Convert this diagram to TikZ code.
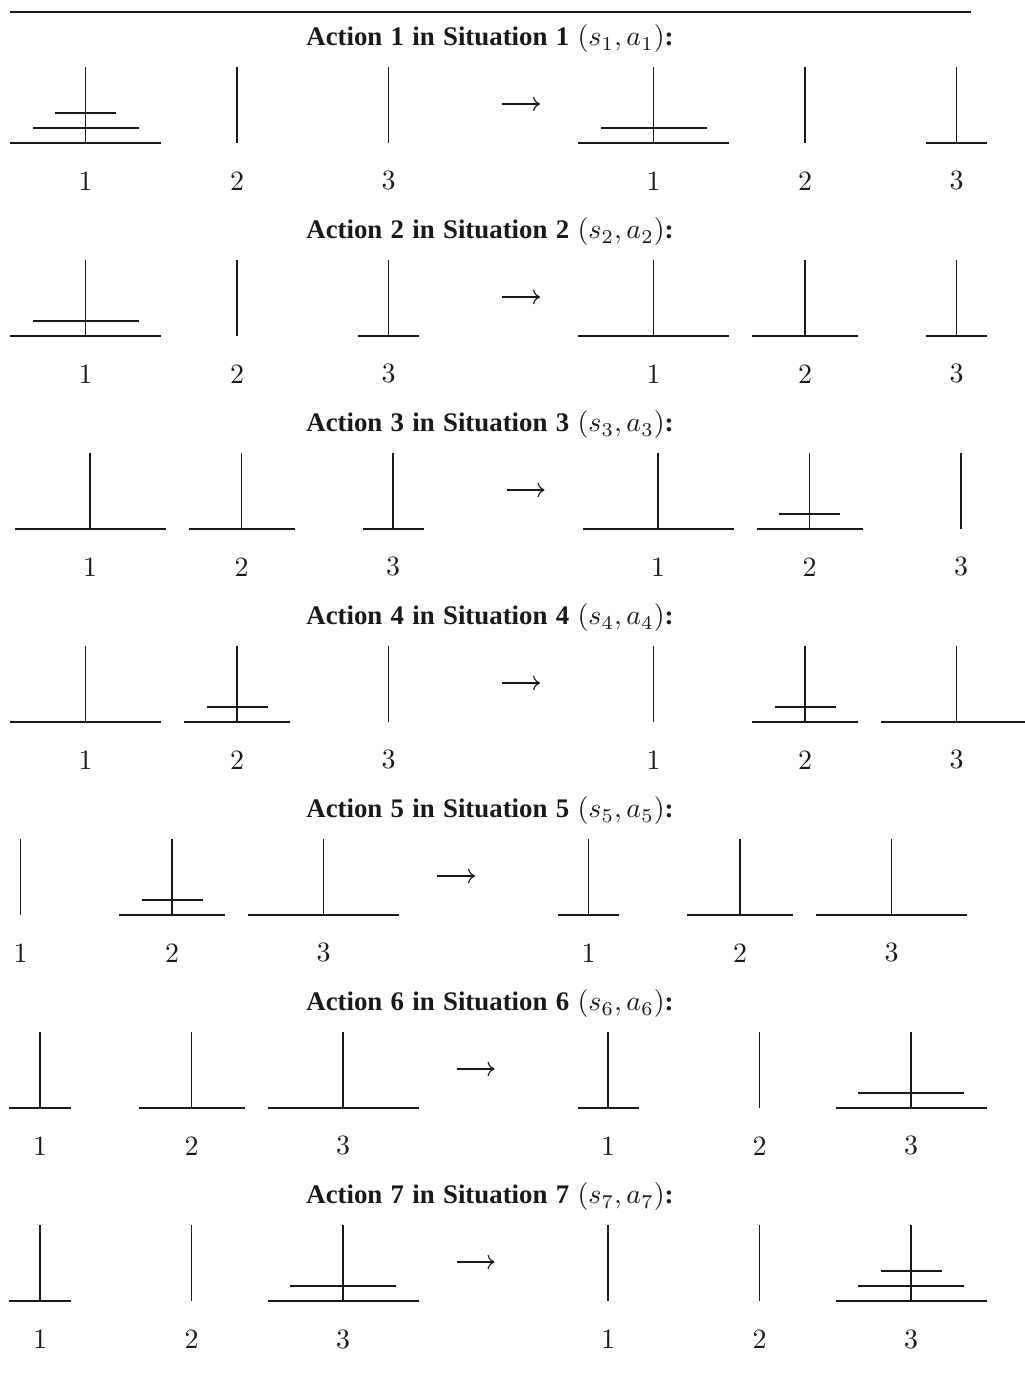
\documentclass[tikz,border=0pt]{standalone}
\usepackage{amsmath}
\usepackage[no-math]{fontspec}
\newfontfamily\hanoititlefont{Liberation Serif}
\newcommand\hanoititlestyle{\hanoititlefont\bfseries\fontsize{9.6}{11}\selectfont\spaceskip=0.31em plus 0.1em\relax}
\usetikzlibrary{arrows.meta}
\definecolor{HanoiInk}{gray}{0.1}
\tikzset{
    hanoi/diagram/.style={
        draw=HanoiInk,
        text=HanoiInk,
        line width=0.5pt,
        line cap=butt,
        every node/.style={inner sep=2pt, outer sep=0pt}
    },
    hanoi/rule/.style={draw=HanoiInk, line width=0.5pt},
    hanoi/peg/.style={draw=HanoiInk, line width=0.5pt},
    hanoi/disk/.style={draw=HanoiInk, line width=0.5pt},
    hanoi/move/.style={draw=HanoiInk, line width=0.4pt, -{To}},
    hanoi/title/.style={font=\hanoititlestyle, anchor=base}
}

\begin{document}
\begin{tikzpicture}[hanoi/diagram, x=0.3578pt, y=0.3578pt]
    \useasboundingbox (0,0) rectangle (1025,1391);
    \draw[hanoi/rule] (10,1379) -- (971,1379);

    \node[hanoi/title] (title1) at (490,1345) {Action 1 in Situation 1 \mdseries$(s_1, a_1)$\bfseries:};
    \draw[hanoi/peg] (85.5,1324) -- (85.5,1248) (237,1324) -- (237,1248) (388.5,1324) -- (388.5,1248)
                     (653.5,1324) -- (653.5,1248) (805,1324) -- (805,1248) (956.5,1324) -- (956.5,1248);
    \draw[hanoi/disk] (10,1248) -- (161,1248) (32.5,1263) -- (138.5,1263) (55,1278) -- (116,1278)
                      (578,1248) -- (729,1248) (600.5,1263) -- (706.5,1263) (926,1248) -- (987,1248);
    \path (85.5,1210) node (r1p1) {1} (237,1210) node (r1p2) {2} (388.5,1210) node (r1p3) {3}
          (653.5,1210) node (r1p4) {1} (805,1210) node (r1p5) {2} (956.5,1210) node (r1p6) {3};
    \coordinate (r1from) at (502,1287); \coordinate (r1to) at (540,1287);
    \draw[hanoi/move] (r1from) -- (r1to);

    \node[hanoi/title] (title2) at (490,1152) {Action 2 in Situation 2 \mdseries$(s_2, a_2)$\bfseries:};
    \draw[hanoi/peg] (85.5,1131) -- (85.5,1055) (237,1131) -- (237,1055) (388.5,1131) -- (388.5,1055)
                     (653.5,1131) -- (653.5,1055) (805,1131) -- (805,1055) (956.5,1131) -- (956.5,1055);
    \draw[hanoi/disk] (10,1055) -- (161,1055) (32.5,1070) -- (138.5,1070) (358,1055) -- (419,1055)
                      (578,1055) -- (729,1055) (752,1055) -- (858,1055) (926,1055) -- (987,1055);
    \path (85.5,1017) node (r2p1) {1} (237,1017) node (r2p2) {2} (388.5,1017) node (r2p3) {3}
          (653.5,1017) node (r2p4) {1} (805,1017) node (r2p5) {2} (956.5,1017) node (r2p6) {3};
    \coordinate (r2from) at (502,1094); \coordinate (r2to) at (540,1094);
    \draw[hanoi/move] (r2from) -- (r2to);

    \node[hanoi/title] (title3) at (490,959) {Action 3 in Situation 3 \mdseries$(s_3, a_3)$\bfseries:};
    \draw[hanoi/peg] (90,938) -- (90,862) (241.5,938) -- (241.5,862) (393,938) -- (393,862)
                     (658,938) -- (658,862) (809.5,938) -- (809.5,862) (961,938) -- (961,862);
    \draw[hanoi/disk] (14.5,862) -- (165.5,862) (188.5,862) -- (294.5,862) (362.5,862) -- (423.5,862)
                      (582.5,862) -- (733.5,862) (756.5,862) -- (862.5,862) (779,877) -- (840,877);
    \path (90,824) node (r3p1) {1} (241.5,824) node (r3p2) {2} (393,824) node (r3p3) {3}
          (658,824) node (r3p4) {1} (809.5,824) node (r3p5) {2} (961,824) node (r3p6) {3};
    \coordinate (r3from) at (506.5,901); \coordinate (r3to) at (544.5,901);
    \draw[hanoi/move] (r3from) -- (r3to);

    \node[hanoi/title] (title4) at (490,766) {Action 4 in Situation 4 \mdseries$(s_4, a_4)$\bfseries:};
    \draw[hanoi/peg] (85.5,745) -- (85.5,669) (237,745) -- (237,669) (388.5,745) -- (388.5,669)
                     (653.5,745) -- (653.5,669) (805,745) -- (805,669) (956.5,745) -- (956.5,669);
    \draw[hanoi/disk] (10,669) -- (161,669) (184,669) -- (290,669) (206.5,684) -- (267.5,684)
                      (752,669) -- (858,669) (774.5,684) -- (835.5,684) (881,669) -- (1032,669);
    \path (85.5,631) node (r4p1) {1} (237,631) node (r4p2) {2} (388.5,631) node (r4p3) {3}
          (653.5,631) node (r4p4) {1} (805,631) node (r4p5) {2} (956.5,631) node (r4p6) {3};
    \coordinate (r4from) at (502,708); \coordinate (r4to) at (540,708);
    \draw[hanoi/move] (r4from) -- (r4to);

    \node[hanoi/title] (title5) at (490,573) {Action 5 in Situation 5 \mdseries$(s_5, a_5)$\bfseries:};
    \draw[hanoi/peg] (20.5,552) -- (20.5,476) (172,552) -- (172,476) (323.5,552) -- (323.5,476)
                     (588.5,552) -- (588.5,476) (740,552) -- (740,476) (891.5,552) -- (891.5,476);
    \draw[hanoi/disk] (119,476) -- (225,476) (141.5,491) -- (202.5,491) (248,476) -- (399,476)
                      (558,476) -- (619,476) (687,476) -- (793,476) (816,476) -- (967,476);
    \path (20.5,438) node (r5p1) {1} (172,438) node (r5p2) {2} (323.5,438) node (r5p3) {3}
          (588.5,438) node (r5p4) {1} (740,438) node (r5p5) {2} (891.5,438) node (r5p6) {3};
    \coordinate (r5from) at (437,515); \coordinate (r5to) at (475,515);
    \draw[hanoi/move] (r5from) -- (r5to);

    \node[hanoi/title] (title6) at (490,380) {Action 6 in Situation 6 \mdseries$(s_6, a_6)$\bfseries:};
    \draw[hanoi/peg] (40,359) -- (40,283) (191.5,359) -- (191.5,283) (343,359) -- (343,283)
                     (608,359) -- (608,283) (759.5,359) -- (759.5,283) (911,359) -- (911,283);
    \draw[hanoi/disk] (9.5,283) -- (70.5,283) (138.5,283) -- (244.5,283) (267.5,283) -- (418.5,283)
                      (577.5,283) -- (638.5,283) (835.5,283) -- (986.5,283) (858,298) -- (964,298);
    \path (40,245) node (r6p1) {1} (191.5,245) node (r6p2) {2} (343,245) node (r6p3) {3}
          (608,245) node (r6p4) {1} (759.5,245) node (r6p5) {2} (911,245) node (r6p6) {3};
    \coordinate (r6from) at (456.5,322); \coordinate (r6to) at (494.5,322);
    \draw[hanoi/move] (r6from) -- (r6to);

    \node[hanoi/title] (title7) at (490,187) {Action 7 in Situation 7 \mdseries$(s_7, a_7)$\bfseries:};
    \draw[hanoi/peg] (40,166) -- (40,90) (191.5,166) -- (191.5,90) (343,166) -- (343,90)
                     (608,166) -- (608,90) (759.5,166) -- (759.5,90) (911,166) -- (911,90);
    \draw[hanoi/disk] (9.5,90) -- (70.5,90) (267.5,90) -- (418.5,90) (290,105) -- (396,105)
                      (835.5,90) -- (986.5,90) (858,105) -- (964,105) (880.5,120) -- (941.5,120);
    \path (40,52) node (r7p1) {1} (191.5,52) node (r7p2) {2} (343,52) node (r7p3) {3}
          (608,52) node (r7p4) {1} (759.5,52) node (r7p5) {2} (911,52) node (r7p6) {3};
    \coordinate (r7from) at (456.5,129); \coordinate (r7to) at (494.5,129);
    \draw[hanoi/move] (r7from) -- (r7to);
\end{tikzpicture}
\end{document}
